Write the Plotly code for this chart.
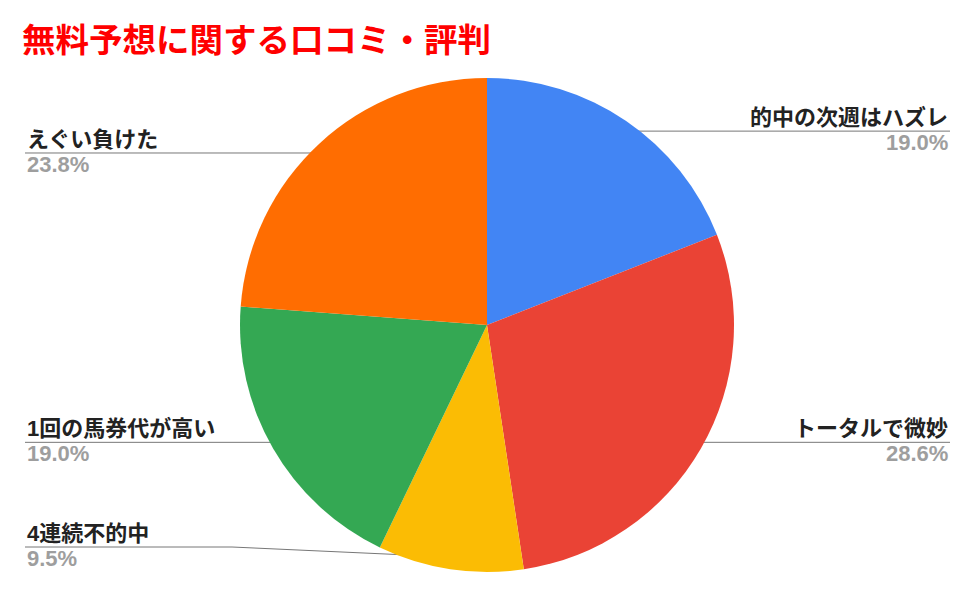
import numpy as np
import plotly.graph_objects as go

# responses per category (shown as percent of 21)
labels = ["的中の次週はハズレ", "トータルで微妙", "4連続不的中", "1回の馬券代が高い", "えぐい負けた"]
counts = [4, 6, 2, 4, 5]
colors = ["#4285f4", "#ea4335", "#fbbc04", "#34a853", "#ff6d01"]
title = "無料予想に関する口コミ・評判"

W, H = 973, 594
cx, cy, R = 487, 325, 247
font = "Liberation Sans, Noto Sans CJK JP, sans-serif"

fig = go.Figure()
fig.add_trace(
    go.Pie(
        labels=labels,
        values=counts,
        sort=False,
        direction="clockwise",
        rotation=0,
        marker=dict(colors=colors, line=dict(width=0)),
        textinfo="none",
        hoverinfo="label+percent",
        showlegend=False,
        domain=dict(x=[(cx - R) / W, (cx + R) / W], y=[1 - (cy + R) / H, 1 - (cy - R) / H]),
    )
)

# leader lines + labels, positioned from slice mid angles
vals = np.array(counts, dtype=float)
frac = vals / vals.sum()
mid = (np.cumsum(frac) - frac / 2) * 2 * np.pi
dot_x = cx + 0.95 * R * np.sin(mid)
dot_y = cy - 0.95 * R * np.cos(mid)

for lab, f, x0, y0 in zip(labels, frac, dot_x, dot_y):
    right = x0 > cx
    x_end = 950 if right else 25
    y_lab = y0 if right else min(y0, H - 47)
    xs = [x0, x_end] if y_lab == y0 else [x0, x0 - 220, x_end]
    ys = [y0, y_lab] if y_lab == y0 else [y0, y_lab, y_lab]
    fig.add_trace(
        go.Scatter(
            x=xs, y=ys, mode="lines", line=dict(color="#777777", width=1),
            hoverinfo="skip", showlegend=False,
        )
    )
    fig.add_trace(
        go.Scatter(
            x=[x0], y=[y0], mode="markers", marker=dict(color="#999999", size=5),
            hoverinfo="skip", showlegend=False,
        )
    )
    anchor = "right" if right else "left"
    fig.add_annotation(
        x=x_end, y=y_lab, text=f"<b>{lab}</b>", xanchor=anchor, yanchor="bottom",
        showarrow=False, font=dict(size=22, color="#222222", family=font), yshift=-1,
    )
    fig.add_annotation(
        x=x_end, y=y_lab, text=f"<b>{f * 100:.1f}%</b>", xanchor=anchor, yanchor="top",
        showarrow=False, font=dict(size=22, color="#9e9e9e", family=font), yshift=3,
    )

fig.update_layout(
    width=W,
    height=H,
    margin=dict(l=0, r=0, t=0, b=0),
    paper_bgcolor="white",
    plot_bgcolor="rgba(0,0,0,0)",
    title=dict(
        text=f"<b>{title}</b>", x=22 / W, xanchor="left", y=1 - 40 / H, yanchor="middle",
        font=dict(size=33.5, color="#ff0000", family=font),
    ),
    xaxis=dict(range=[0, W], visible=False, fixedrange=True),
    yaxis=dict(range=[H, 0], visible=False, fixedrange=True),
)

# drop the default page margin so the chart sits at the window's corner
fig.write_html(
    "out.html",
    config=dict(displayModeBar=False),
    post_script="document.body.style.margin='0';",
)
